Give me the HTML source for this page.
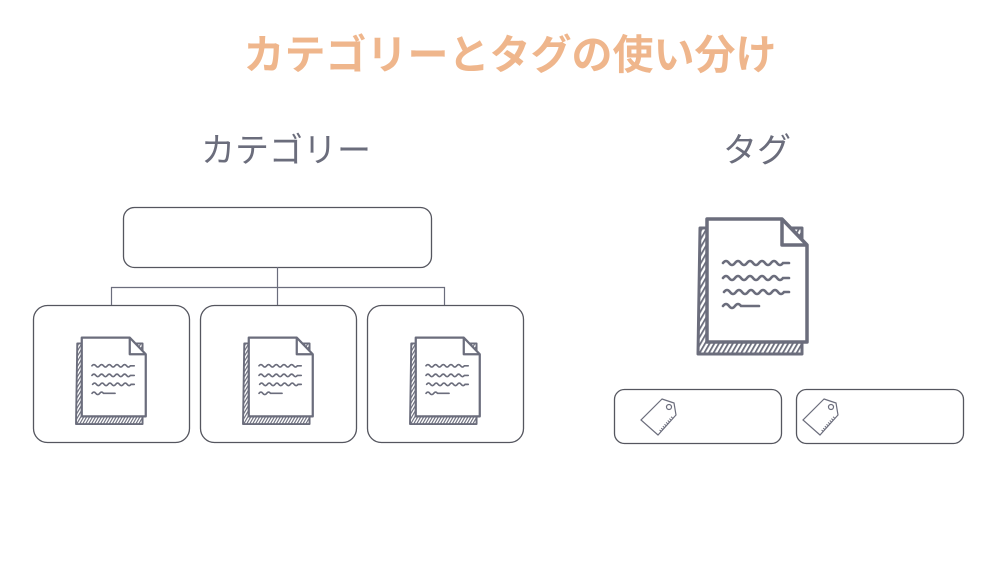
<!DOCTYPE html>
<html><head><meta charset="utf-8"><style>
html,body{margin:0;padding:0;background:#fff;}
svg{display:block}
text{font-family:"Liberation Sans","Noto Sans CJK JP",sans-serif;}
</style></head><body>
<svg width="1000" height="569" viewBox="0 0 1000 569" xmlns="http://www.w3.org/2000/svg">
<defs>
<pattern id="h" width="4" height="4" patternUnits="userSpaceOnUse" patternTransform="rotate(30)">
<rect width="4" height="4" fill="#fff"/><rect width="1.8" height="4" fill="#6b6d7c"/></pattern>
<g id="doc">
<path d="M2 10 L104 10 L104 136 L0 136 Z" fill="url(#h)" stroke="#6b6d7c" stroke-width="3" stroke-linejoin="round"/>
<path d="M9 1 L84 1 L109 27 L109 124 L9 124 Z" fill="#fff" stroke="#6b6d7c" stroke-width="3.5" stroke-linejoin="round"/>
<path d="M84 1 L84 27 L109 27" fill="none" stroke="#6b6d7c" stroke-width="3.5" stroke-linejoin="round"/>
<g fill="none" stroke="#6b6d7c" stroke-width="2.6" stroke-linecap="round">
<path d="M25 45 q3 -4 6 0 t6 0 t6 0 t6 0 t6 0 t6 0 t6 0 t6 0 t6 0 t6 0 l6 0"/>
<path d="M25 60 q3 -4 6 0 t6 0 t6 0 t6 0 t6 0 t6 0 t6 0 t6 0 t6 0 t6 0 l6 0"/>
<path d="M26 74 q3 -4 6 0 t6 0 t6 0 t6 0 t6 0 t6 0 t6 0 t6 0 t6 0 t6 0 l5 0"/>
<path d="M25 88 q3 -4 6 0 t6 0 t6 0 l18 0"/>
</g></g>
<g id="tag" fill="none" stroke="#6b6d7c" stroke-width="1.2">
<path d="M22 1 L34 5 L36 17 L18 37 L1 22 Z" fill="#fff"/>
<circle cx="29" cy="9" r="2.5"/>
<path d="M20 33 L33 18" stroke-dasharray="1 1.5" stroke-width="2"/>
</g>
</defs>
<text x="510" y="69" text-anchor="middle" font-size="41" font-weight="bold" fill="#efb68c">カテゴリーとタグの使い分け</text>
<text x="286" y="162" text-anchor="middle" font-size="34" fill="#6b6d7c">カテゴリー</text>
<text x="757" y="162" text-anchor="middle" font-size="34" fill="#6b6d7c">タグ</text>
<g fill="#fff" stroke="#55565f" stroke-width="1.3">
<rect x="123.5" y="207.5" width="308" height="60" rx="11"/>
<rect x="33.5" y="305.5" width="156" height="137" rx="14"/>
<rect x="200.5" y="305.5" width="156" height="137" rx="14"/>
<rect x="367.5" y="305.5" width="156" height="137" rx="14"/>
<rect x="614.5" y="389.5" width="167" height="54" rx="10"/>
<rect x="796.5" y="389.5" width="167" height="54" rx="10"/>
</g>
<path d="M277.5 267 V287.5 M111.5 305 V287.5 H444.5 V305 M277.5 287 V305" fill="none" stroke="#6b6d7c" stroke-width="1.2"/>
<use href="#doc" transform="translate(698,218)"/>
<use href="#doc" transform="translate(76,337) scale(0.64)"/>
<use href="#doc" transform="translate(243,337) scale(0.64)"/>
<use href="#doc" transform="translate(410,337) scale(0.64)"/>
<use href="#tag" transform="translate(640,398)"/>
<use href="#tag" transform="translate(802,398)"/>
</svg>
</body></html>
